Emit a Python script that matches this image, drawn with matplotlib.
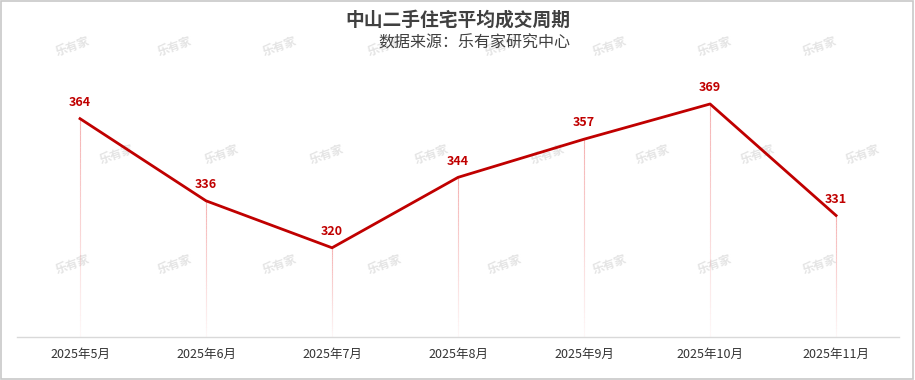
import numpy as np
import matplotlib.pyplot as plt
from matplotlib.collections import LineCollection
from matplotlib.patches import Rectangle

plt.rcParams['font.family'] = ['Noto Sans CJK SC', 'DejaVu Sans']

months = ['2025年5月', '2025年6月', '2025年7月', '2025年8月',
          '2025年9月', '2025年10月', '2025年11月']
days = [364, 336, 320, 344, 357, 369, 331]

title = '中山二手住宅平均成交周期'
subtitle = '数据来源：乐有家研究中心'

red = '#C00000'
ymin, ymax = 289.6, 384

fig = plt.figure(figsize=(9.15, 3.8), dpi=100)
ax = fig.add_axes([0.0186, 0.1132, 0.964, 0.729])
ax.patch.set_alpha(0)

x = np.arange(len(days))

# faint watermarks, kept under the line
wm_rows = [(47, [73, 175, 280, 385, 502, 610, 715, 820]),
           (155, [117, 222, 327, 432, 548, 653, 758, 863]),
           (265, [73, 175, 280, 385, 505, 610, 715, 820])]
for py, xs in wm_rows:
    for px in xs:
        ax.text(px / 915, 1 - py / 380, '乐有家', fontsize=8.5, fontweight='bold',
                color='#e4e4e4', rotation=20, ha='center', va='center',
                transform=fig.transFigure, clip_on=False, zorder=0.5)

# drop lines fading toward the axis
for xi, yi in zip(x, days):
    ys = np.linspace(yi, ymin, 40)
    segs = [[(xi, ys[i]), (xi, ys[i + 1])] for i in range(len(ys) - 1)]
    alphas = np.linspace(0.55, 0.05, len(segs))
    cols = [(0.93, 0.45, 0.45, a) for a in alphas]
    ax.add_collection(LineCollection(segs, colors=cols, linewidths=0.8, zorder=1))

ax.plot(x, days, color=red, linewidth=2.0, solid_joinstyle='round', zorder=3)

for xi, yi in zip(x, days):
    ax.annotate(str(yi), (xi, yi), xytext=(0, 7), textcoords='offset points',
                ha='center', va='bottom', color=red, fontsize=9,
                fontweight='bold', zorder=4)

ax.set_xlim(-0.5, len(days) - 0.5)
ax.set_ylim(ymin, ymax)
ax.set_xticks(x)
ax.set_xticklabels(months, fontsize=9, color='#333333')
ax.tick_params(axis='x', length=0, pad=8)
ax.set_yticks([])
for s in ['top', 'left', 'right']:
    ax.spines[s].set_visible(False)
ax.spines['bottom'].set_color('#d9d9d9')
ax.spines['bottom'].set_linewidth(1)

fig.text(458 / 915, 1 - 20 / 380, title, fontsize=13.5, fontweight='bold',
         color='#404040', ha='center', va='center')
fig.text(570 / 915, 1 - 43 / 380, subtitle, fontsize=11.5,
         color='#404040', ha='right', va='center')

fig.patches.append(Rectangle((0.001, 0.002), 0.997, 0.995, transform=fig.transFigure,
                             fill=False, edgecolor='#c8c8c8', linewidth=1.2))

fig.savefig('out.png', dpi=100)
